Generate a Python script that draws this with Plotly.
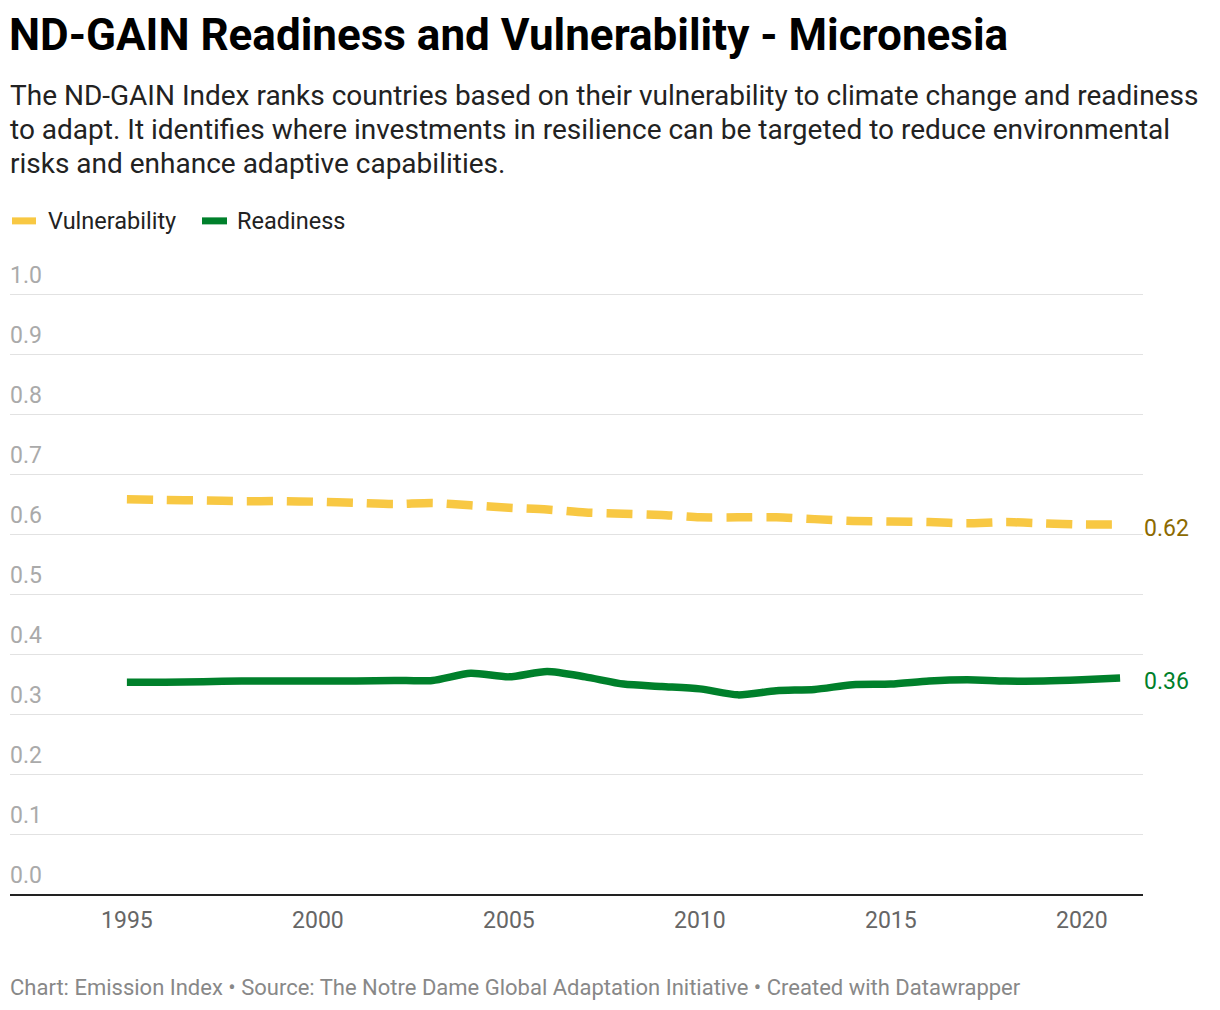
import plotly.graph_objects as go

# ND-GAIN scores for Micronesia
years = list(range(1995, 2022))
vulnerability = [0.658, 0.657, 0.656, 0.655, 0.655, 0.654, 0.652, 0.650, 0.652, 0.648,
                 0.644, 0.641, 0.636, 0.634, 0.632, 0.628, 0.628, 0.628, 0.625, 0.622,
                 0.621, 0.620, 0.618, 0.620, 0.618, 0.616, 0.616]
readiness = [0.353, 0.353, 0.354, 0.355, 0.355, 0.355, 0.355, 0.356, 0.356, 0.368,
             0.362, 0.371, 0.362, 0.350, 0.346, 0.342, 0.332, 0.339, 0.341, 0.349,
             0.350, 0.355, 0.357, 0.355, 0.355, 0.357, 0.360]

y_ticks = [0.0, 0.1, 0.2, 0.3, 0.4, 0.5, 0.6, 0.7, 0.8, 0.9, 1.0]
x_ticks = [1995, 2000, 2005, 2010, 2015, 2020]

title = "ND-GAIN Readiness and Vulnerability - Micronesia"
subtitle_lines = [
    "The ND-GAIN Index ranks countries based on their vulnerability to climate change and readiness",
    "to adapt. It identifies where investments in resilience can be targeted to reduce environmental",
    "risks and enhance adaptive capabilities.",
]
footer = "Chart: Emission Index • Source: The Notre Dame Global Adaptation Initiative • Created with Datawrapper"

YELLOW = "#f8c843"
GREEN = "#00802b"
FONT = "Roboto"

# page pixel -> paper coords (plot area spans x 10..1143, y 294..894 on the page)
def px(x):
    return (x - 10) / 1133

def py(y):
    return (894 - y) / 600

fig = go.Figure()
fig.add_trace(go.Scatter(
    x=years, y=vulnerability, mode="lines", name="Vulnerability",
    line=dict(color=YELLOW, width=8.5, dash="26px,14px", shape="spline", smoothing=0.7),
    hoverinfo="skip",
))
fig.add_trace(go.Scatter(
    x=years, y=readiness, mode="lines", name="Readiness",
    line=dict(color=GREEN, width=7.5, shape="spline", smoothing=0.7),
    hoverinfo="skip",
))

annotations = []
# y tick labels sit above the gridlines, at the left edge
for v in y_ticks:
    annotations.append(dict(
        x=0, xref="paper", y=v, yref="y", text=f"{v:.1f}", showarrow=False,
        xanchor="left", yanchor="middle", xshift=-2, yshift=19,
        font=dict(family=FONT, size=23, color="#aaaaaa"),
    ))
# end-of-line value labels
annotations.append(dict(
    x=years[-1], y=vulnerability[-1], text=f"{vulnerability[-1]:.2f}", showarrow=False,
    xanchor="left", yanchor="middle", xshift=22, yshift=-4,
    font=dict(family=FONT, size=23, color="#8c6a00"),
))
annotations.append(dict(
    x=years[-1], y=readiness[-1], text=f"{readiness[-1]:.2f}", showarrow=False,
    xanchor="left", yanchor="middle", xshift=22, yshift=-3,
    font=dict(family=FONT, size=23, color=GREEN),
))

head = dict(xref="paper", yref="paper", showarrow=False, xanchor="left", yanchor="middle")
annotations.append(dict(head, x=px(7), y=py(36), text=f"<b>{title}</b>",
                        font=dict(family=FONT, size=44, color="#000000")))
for i, line in enumerate(subtitle_lines):
    annotations.append(dict(head, x=px(8), y=py(97 + 34 * i), text=line,
                            font=dict(family=FONT, size=28, color="#222222")))
annotations.append(dict(head, x=px(46), y=py(222), text="Vulnerability",
                        font=dict(family=FONT, size=23.5, color="#222222")))
annotations.append(dict(head, x=px(235), y=py(222), text="Readiness",
                        font=dict(family=FONT, size=23.5, color="#222222")))
annotations.append(dict(head, x=px(8), y=py(987), text=footer,
                        font=dict(family=FONT, size=22, color="#888888")))

shapes = [
    dict(type="line", xref="paper", yref="paper", x0=px(12), x1=px(36),
         y0=py(222), y1=py(222), line=dict(color=YELLOW, width=7)),
    dict(type="line", xref="paper", yref="paper", x0=px(202), x1=px(227),
         y0=py(222), y1=py(222), line=dict(color=GREEN, width=7)),
]

# the page has an 8px body margin, so the figure is shifted by 8px
fig.update_layout(
    width=1212, height=1002,
    margin=dict(l=2, r=77, t=285, b=116),
    paper_bgcolor="white", plot_bgcolor="white",
    showlegend=False,
    annotations=annotations,
    shapes=shapes,
    font=dict(family=FONT),
    xaxis=dict(
        range=[1991.94, 2021.6], tickvals=x_ticks, showgrid=False, zeroline=False,
        showline=True, linecolor="#222222", linewidth=2,
        ticks="outside", ticklen=4, tickcolor="rgba(0,0,0,0)",
        tickfont=dict(family=FONT, size=23, color="#666666"),
    ),
    yaxis=dict(
        range=[0, 1.002], tickvals=y_ticks, showticklabels=False,
        showgrid=True, gridcolor="#e2e2e2", gridwidth=1, zeroline=False,
    ),
)

fig.write_html("out.html")
